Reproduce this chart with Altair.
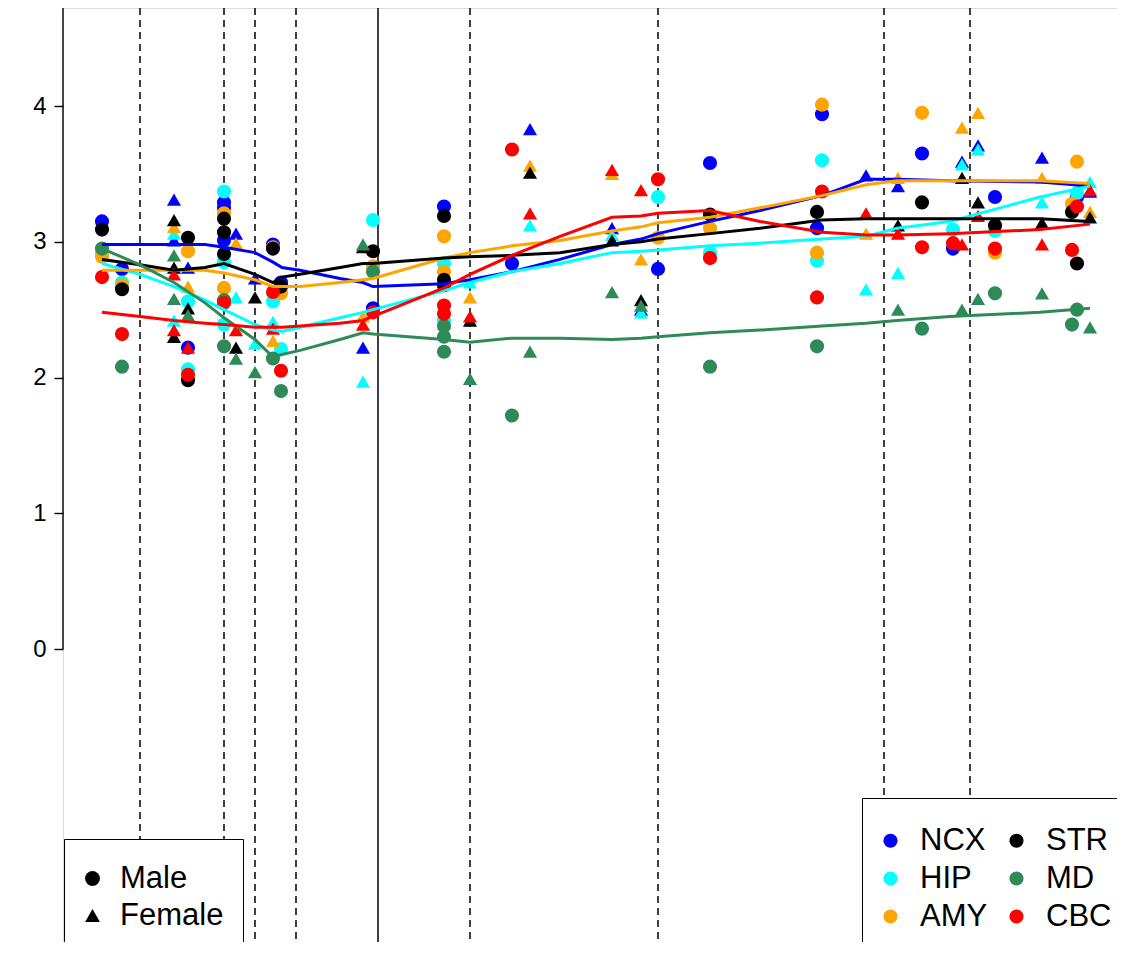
import altair as alt
import pandas as pd

# ---------------- data ----------------
regions = ["NCX", "HIP", "AMY", "STR", "MD", "CBC"]          # drawing + legend order
region_colors = ["#0000FF", "#00FFFF", "#FFA500", "#000000", "#2E8B57", "#FF0000"]
sexes = ["Male", "Female"]

# developmental period boundaries (age position) and birth
period_breaks = [140, 224, 255, 296, 470, 658, 884, 970]
birth_pos = [378]

# individual samples: (age position, value, sex)
ncx_pts = [(102, 3.15, "Male"), (122, 2.80, "Male"), (174, 3.31, "Female"), (174, 3.01, "Female"),
           (188, 2.22, "Male"), (188, 2.81, "Female"), (224, 3.29, "Male"), (224, 3.25, "Male"),
           (224, 3.01, "Male"), (236, 3.06, "Female"), (255, 2.73, "Female"), (273, 2.98, "Male"),
           (281, 2.70, "Male"), (363, 2.22, "Female"), (373, 2.51, "Male"), (444, 3.26, "Male"),
           (512, 2.84, "Male"), (530, 3.83, "Female"), (612, 3.10, "Female"), (641, 2.50, "Female"),
           (658, 2.80, "Male"), (710, 3.58, "Male"), (822, 3.94, "Male"), (817, 3.10, "Male"),
           (866, 3.49, "Female"), (898, 3.41, "Female"), (922, 3.65, "Male"), (953, 2.95, "Male"),
           (962, 3.59, "Female"), (978, 3.71, "Female"), (995, 3.33, "Male"), (1042, 3.62, "Female"),
           (1077, 3.33, "Male"), (1090, 3.37, "Female")]
hip_pts = [(102, 2.92, "Male"), (122, 2.70, "Male"), (174, 3.06, "Female"), (174, 2.42, "Female"),
           (188, 2.56, "Male"), (188, 2.06, "Male"), (224, 3.37, "Male"), (224, 2.85, "Male"),
           (224, 2.39, "Male"), (236, 2.59, "Female"), (255, 2.25, "Female"), (273, 2.56, "Male"),
           (273, 2.41, "Female"), (281, 2.21, "Male"), (363, 1.97, "Female"), (373, 3.16, "Male"),
           (444, 2.84, "Male"), (444, 2.42, "Male"), (470, 2.70, "Female"), (530, 3.12, "Female"),
           (612, 3.05, "Female"), (641, 2.48, "Female"), (658, 3.33, "Male"), (710, 2.92, "Male"),
           (822, 3.60, "Male"), (817, 2.86, "Male"), (866, 2.65, "Female"), (898, 2.77, "Female"),
           (953, 3.09, "Male"), (962, 3.57, "Female"), (978, 3.68, "Female"), (995, 3.08, "Male"),
           (1042, 3.29, "Female"), (1077, 3.36, "Male"), (1090, 3.44, "Female")]
amy_pts = [(102, 2.89, "Male"), (122, 2.68, "Male"), (174, 3.11, "Female"), (188, 2.93, "Male"),
           (188, 2.67, "Female"), (224, 3.21, "Male"), (224, 2.66, "Male"), (236, 2.99, "Female"),
           (273, 2.96, "Male"), (273, 2.27, "Female"), (281, 2.62, "Male"), (363, 2.45, "Female"),
           (373, 2.82, "Male"), (444, 3.04, "Male"), (444, 2.78, "Male"), (470, 2.59, "Female"),
           (530, 3.56, "Female"), (612, 3.50, "Female"), (641, 2.87, "Female"), (658, 3.03, "Male"),
           (710, 3.10, "Male"), (822, 4.01, "Male"), (817, 2.92, "Male"), (866, 3.06, "Female"),
           (898, 3.47, "Female"), (922, 3.95, "Male"), (962, 3.84, "Female"), (978, 3.95, "Female"),
           (995, 2.92, "Male"), (1042, 3.47, "Female"), (1077, 3.59, "Male"), (1072, 3.28, "Male"),
           (1090, 3.22, "Female")]
str_pts = [(102, 3.09, "Male"), (122, 2.65, "Male"), (174, 3.16, "Female"), (174, 2.81, "Female"),
           (174, 2.30, "Female"), (188, 3.03, "Male"), (188, 1.98, "Male"), (188, 2.51, "Female"),
           (224, 3.17, "Male"), (224, 3.07, "Male"), (224, 2.91, "Male"), (236, 2.22, "Female"),
           (255, 2.59, "Female"), (273, 2.95, "Male"), (281, 2.67, "Male"), (363, 2.96, "Female"),
           (373, 2.93, "Male"), (444, 3.19, "Male"), (444, 2.72, "Male"), (444, 2.68, "Male"),
           (470, 2.42, "Female"), (530, 3.51, "Female"), (612, 3.01, "Female"), (641, 2.57, "Female"),
           (710, 3.20, "Male"), (817, 3.22, "Male"), (898, 3.12, "Female"), (922, 3.29, "Male"),
           (962, 3.47, "Female"), (978, 3.29, "Female"), (995, 3.12, "Male"), (1042, 3.14, "Female"),
           (1072, 3.22, "Male"), (1077, 2.84, "Male"), (1090, 3.18, "Female")]
md_pts = [(102, 2.95, "Male"), (122, 2.08, "Male"), (174, 2.90, "Female"), (174, 2.58, "Female"),
          (188, 2.46, "Female"), (224, 2.57, "Male"), (224, 2.23, "Male"), (236, 2.14, "Female"),
          (255, 2.04, "Female"), (273, 2.14, "Male"), (281, 1.90, "Male"), (363, 2.98, "Female"),
          (373, 2.78, "Male"), (444, 2.38, "Male"), (444, 2.30, "Male"), (444, 2.19, "Male"),
          (470, 1.99, "Female"), (512, 1.72, "Male"), (530, 2.19, "Female"), (612, 2.63, "Female"),
          (641, 2.53, "Female"), (710, 2.08, "Male"), (817, 2.23, "Male"), (898, 2.50, "Female"),
          (922, 2.36, "Male"), (962, 2.50, "Female"), (978, 2.58, "Female"), (995, 2.62, "Male"),
          (1042, 2.62, "Female"), (1077, 2.50, "Male"), (1072, 2.39, "Male"), (1090, 2.37, "Female")]
cbc_pts = [(102, 2.74, "Male"), (122, 2.32, "Male"), (174, 2.76, "Female"), (174, 2.35, "Female"),
           (188, 2.02, "Male"), (188, 2.22, "Female"), (224, 2.55, "Male"), (236, 2.35, "Female"),
           (273, 2.63, "Male"), (273, 2.36, "Female"), (281, 2.05, "Male"), (363, 2.39, "Female"),
           (373, 2.48, "Male"), (444, 2.53, "Male"), (444, 2.47, "Male"), (470, 2.45, "Female"),
           (512, 3.68, "Male"), (530, 3.21, "Female"), (612, 3.53, "Female"), (641, 3.38, "Female"),
           (658, 3.46, "Male"), (710, 2.88, "Male"), (822, 3.37, "Male"), (817, 2.59, "Male"),
           (866, 3.21, "Female"), (898, 3.06, "Female"), (922, 2.96, "Male"), (953, 2.99, "Male"),
           (962, 2.98, "Female"), (978, 3.19, "Female"), (995, 2.95, "Male"), (1042, 2.98, "Female"),
           (1077, 3.26, "Male"), (1072, 2.94, "Male"), (1090, 3.38, "Female")]

# smoothed trend per region
line_x = [102, 140, 174, 205, 224, 255, 273, 282, 300, 340, 363, 373, 444, 470,
          512, 560, 612, 641, 658, 710, 760, 822, 866, 897, 950, 1040, 1090]
ncx_fit = [2.98, 2.98, 2.98, 2.98, 2.96, 2.92, 2.85, 2.81, 2.79, 2.73, 2.70, 2.67, 2.69, 2.72,
           2.78, 2.87, 2.98, 3.02, 3.06, 3.15, 3.23, 3.34, 3.46, 3.46, 3.45, 3.44, 3.41]
hip_fit = [2.84, 2.76, 2.67, 2.57, 2.50, 2.39, 2.35, 2.34, 2.37, 2.44, 2.48, 2.50, 2.64, 2.70,
           2.78, 2.84, 2.92, 2.93, 2.94, 2.97, 2.99, 3.02, 3.04, 3.10, 3.15, 3.33, 3.41]
amy_fit = [2.79, 2.79, 2.79, 2.79, 2.77, 2.72, 2.67, 2.67, 2.67, 2.70, 2.72, 2.73, 2.88, 2.92,
           2.97, 3.01, 3.08, 3.11, 3.14, 3.18, 3.25, 3.34, 3.42, 3.45, 3.45, 3.45, 3.43]
str_fit = [2.87, 2.83, 2.79, 2.81, 2.84, 2.76, 2.70, 2.74, 2.76, 2.81, 2.84, 2.84, 2.88, 2.89,
           2.90, 2.92, 2.98, 3.00, 3.02, 3.06, 3.10, 3.16, 3.17, 3.17, 3.17, 3.17, 3.15]
md_fit = [2.95, 2.83, 2.70, 2.55, 2.44, 2.28, 2.15, 2.17, 2.20, 2.28, 2.33, 2.32, 2.28, 2.26,
          2.29, 2.29, 2.28, 2.29, 2.30, 2.33, 2.35, 2.38, 2.40, 2.42, 2.45, 2.48, 2.51]
cbc_fit = [2.48, 2.45, 2.42, 2.40, 2.39, 2.37, 2.37, 2.37, 2.38, 2.40, 2.42, 2.45, 2.66, 2.76,
           2.90, 3.04, 3.18, 3.19, 3.21, 3.23, 3.15, 3.07, 3.05, 3.05, 3.06, 3.09, 3.13]

y_ticks = [0, 1, 2, 3, 4]

# ---------------- tables ----------------
pts_by_region = dict(zip(regions, [ncx_pts, hip_pts, amy_pts, str_pts, md_pts, cbc_pts]))
fit_by_region = dict(zip(regions, [ncx_fit, hip_fit, amy_fit, str_fit, md_fit, cbc_fit]))

rows = []
order = 0
for r in regions:
    for (a, v, s) in pts_by_region[r]:
        rows.append({"age": a, "value": v, "region": r, "sex": s, "ord": order})
        order += 1
pts_df = pd.DataFrame(rows)

fit_rows = []
for r in regions:
    for a, v in zip(line_x, fit_by_region[r]):
        fit_rows.append({"age": a, "value": v, "region": r})
fit_df = pd.DataFrame(fit_rows)

FONT = "Liberation Sans"

x_scale = alt.Scale(domain=[63, 1117], nice=False, zero=False)
y_scale = alt.Scale(domain=[-2.158, 4.722], nice=False, zero=False)
color_scale = alt.Scale(domain=regions, range=region_colors)
shape_scale = alt.Scale(domain=sexes, range=["circle", "triangle-up"])
y_axis = alt.Axis(values=y_ticks, domain=False, grid=False, title=None,
                  tickSize=9, tickWidth=1.4, tickColor="black",
                  labelFontSize=24, labelFont=FONT, labelColor="black", labelPadding=8)

vlines = alt.Chart(pd.DataFrame({"age": period_breaks})).mark_rule(
    color="black", strokeWidth=1.5, strokeDash=[7, 5]
).encode(x=alt.X("age:Q", scale=x_scale, axis=None))

birth = alt.Chart(pd.DataFrame({"age": birth_pos})).mark_rule(
    color="black", strokeWidth=1.5
).encode(x=alt.X("age:Q", scale=x_scale, axis=None))

axis_line = alt.Chart(pd.DataFrame({"value": [0]})).mark_rule(
    color="black", strokeWidth=1.4
).encode(x=alt.value(0), y=alt.Y("value:Q", scale=y_scale, axis=y_axis), y2=alt.value(0))

sex_legend = alt.Legend(title=" ", titleFontSize=1, titlePadding=4,
                        orient="none", legendX=1, legendY=831,
                        symbolSize=220, symbolFillColor="black",
                        symbolStrokeColor="black", symbolStrokeWidth=0,
                        symbolOffset=-6,
                        labelFontSize=31, labelFont=FONT, labelColor="black",
                        labelOffset=12, rowPadding=5, padding=19,
                        fillColor="white", strokeColor="black")

region_legend = alt.Legend(title=" ", titleFontSize=1, titlePadding=4,
                           orient="none", legendX=799, legendY=790,
                           columns=2, symbolType="circle", symbolSize=200,
                           symbolStrokeWidth=0, symbolOffset=-9,
                           labelFontSize=31, labelFont=FONT,
                           labelColor="black", labelOffset=14, rowPadding=6,
                           columnPadding=21, padding=22, fillColor="white",
                           strokeColor="black")

points = alt.Chart(pts_df).mark_point(filled=True, opacity=1, strokeWidth=0, size=200).encode(
    x=alt.X("age:Q", scale=x_scale, axis=None),
    y=alt.Y("value:Q", scale=y_scale, axis=y_axis),
    color=alt.Color("region:N", scale=color_scale, legend=region_legend),
    shape=alt.Shape("sex:N", scale=shape_scale, legend=sex_legend),
    order=alt.Order("ord:Q"),
)

lines = alt.Chart(fit_df).mark_line(strokeWidth=3).encode(
    x=alt.X("age:Q", scale=x_scale, axis=None),
    y=alt.Y("value:Q", scale=y_scale, axis=y_axis),
    color=alt.Color("region:N", scale=color_scale, legend=None),
    detail="region:N",
)

chart = alt.layer(vlines, birth, axis_line, points, lines).properties(
    width=1054, height=934,
    autosize=alt.AutoSizeParams(type="none"),
    padding={"left": 55, "top": 0, "right": 0, "bottom": 0},
).configure_view(fill="#F8F8F8", stroke=None).configure(font=FONT)

chart.save("out.html", embed_options={"renderer": "svg", "actions": False})
